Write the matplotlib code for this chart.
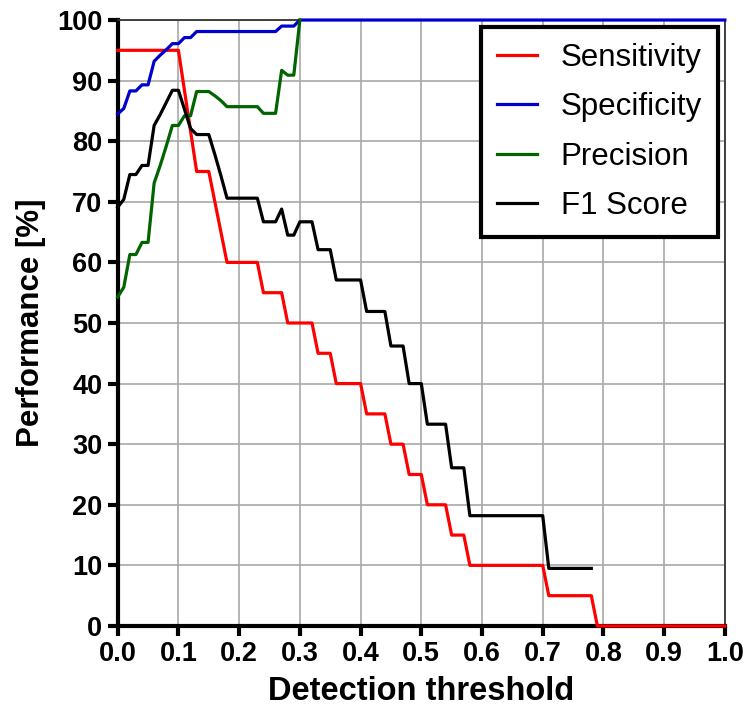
import matplotlib
matplotlib.use("Agg")
import matplotlib.pyplot as plt

# Sensitivity (red)
sens_x = [0.00, 0.10, 0.13, 0.15, 0.18, 0.23, 0.24, 0.27, 0.28, 0.32, 0.33, 0.35,
          0.36, 0.40, 0.41, 0.44, 0.45, 0.47, 0.48, 0.50, 0.51, 0.54, 0.55, 0.57,
          0.58, 0.70, 0.71, 0.78, 0.79, 1.00]
sens_y = [95, 95, 75, 75, 60, 60, 55, 55, 50, 50, 45, 45,
          40, 40, 35, 35, 30, 30, 25, 25, 20, 20, 15, 15,
          10, 10, 5, 5, 0, 0]

# Specificity (blue)
spec_x = [0.00, 0.01, 0.02, 0.03, 0.04, 0.05, 0.06, 0.07, 0.08, 0.09, 0.10,
          0.11, 0.12, 0.13, 0.26, 0.27, 0.29, 0.30, 1.00]
spec_y = [84.5, 85.4, 88.3, 88.3, 89.3, 89.3, 93.2, 94.2, 95.1, 96.1, 96.1,
          97.1, 97.1, 98.1, 98.1, 99.0, 99.0, 100, 100]

# Precision (green)
prec_x = [0.00, 0.01, 0.02, 0.03, 0.04, 0.05, 0.06, 0.07, 0.08, 0.09, 0.10,
          0.11, 0.12, 0.13, 0.15, 0.16, 0.17, 0.18, 0.23, 0.24, 0.26, 0.27,
          0.28, 0.29, 0.30]
prec_y = [54.3, 55.9, 61.3, 61.3, 63.3, 63.3, 73.1, 76.0, 79.2, 82.6, 82.6,
          84.2, 84.2, 88.2, 88.2, 87.5, 86.7, 85.7, 85.7, 84.6, 84.6, 91.7,
          90.9, 90.9, 100]

# F1 score (black)
f1_x = [0.00, 0.01, 0.02, 0.03, 0.04, 0.05, 0.06, 0.07, 0.08, 0.09, 0.10,
        0.12, 0.13, 0.15, 0.16, 0.17, 0.18, 0.23, 0.24, 0.26, 0.27, 0.28,
        0.29, 0.30, 0.32, 0.33, 0.35, 0.36, 0.40, 0.41, 0.44, 0.45, 0.47,
        0.48, 0.50, 0.51, 0.54, 0.55, 0.57, 0.58, 0.70, 0.71, 0.78]
f1_y = [69.1, 70.4, 74.5, 74.5, 76.0, 76.0, 82.6, 84.4, 86.4, 88.4, 88.4,
        82.1, 81.1, 81.1, 77.8, 74.3, 70.6, 70.6, 66.7, 66.7, 68.8, 64.5,
        64.5, 66.7, 66.7, 62.1, 62.1, 57.1, 57.1, 51.9, 51.9, 46.2, 46.2,
        40.0, 40.0, 33.3, 33.3, 26.1, 26.1, 18.2, 18.2, 9.5, 9.5]

x_ticks = [0.0, 0.1, 0.2, 0.3, 0.4, 0.5, 0.6, 0.7, 0.8, 0.9, 1.0]
y_ticks = [0, 10, 20, 30, 40, 50, 60, 70, 80, 90, 100]

plt.rcParams['font.family'] = ['Liberation Sans', 'DejaVu Sans']

fig = plt.figure(figsize=(7.45, 7.2), dpi=100)
ax = fig.add_axes([0.158, 0.1306, 0.815, 0.8416])

lw = 2.3
ax.plot(sens_x, sens_y, color='#ff0000', lw=lw, label='Sensitivity', clip_on=False, zorder=3)
ax.plot(spec_x, spec_y, color='#0000cc', lw=lw, label='Specificity', clip_on=False, zorder=3)
ax.plot(prec_x, prec_y, color='#006400', lw=lw, label='Precision', clip_on=False, zorder=3)
ax.plot(f1_x, f1_y, color='black', lw=lw, label='F1 Score', clip_on=False, zorder=3)

ax.set_xlim(0, 1)
ax.set_ylim(0, 100)
ax.set_xticks(x_ticks)
ax.set_yticks(y_ticks)
ax.set_xticklabels([f"{t:.1f}" for t in x_ticks], fontsize=19.5, fontweight='bold')
ax.set_yticklabels([str(t) for t in y_ticks], fontsize=19.5, fontweight='bold')
ax.tick_params(axis='both', direction='out', length=7, width=3, color='black', pad=4)

ax.grid(True, color='#a8a8a8', lw=1.2)
ax.set_axisbelow(True)

for side in ['left', 'bottom']:
    ax.spines[side].set_linewidth(3)
    ax.spines[side].set_color('black')
for side in ['top', 'right']:
    ax.spines[side].set_linewidth(1.3)
    ax.spines[side].set_color('#333333')

ax.set_xlabel('Detection threshold', fontsize=23.5, fontweight='bold', labelpad=6)
ax.set_ylabel('Performance [%]', fontsize=22.5, fontweight='bold', labelpad=8)

leg = ax.legend(loc='upper right', bbox_to_anchor=(0.988, 0.988), borderaxespad=0,
                fontsize=22.5, handlelength=1.3, handletextpad=0.75, labelspacing=0.62,
                borderpad=0.5, fancybox=False, framealpha=1)
leg.get_frame().set_edgecolor('black')
leg.get_frame().set_linewidth(3)

fig.savefig('out.png', dpi=100)
